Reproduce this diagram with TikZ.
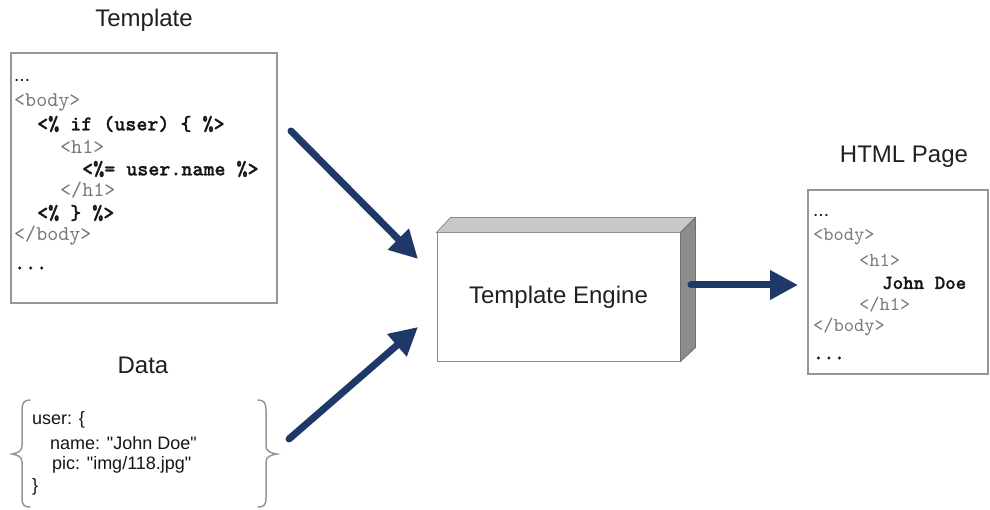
\documentclass[tikz,border=0pt]{standalone}
\usepackage{fontspec}
\setmainfont{Liberation Sans}
\newfontfamily\codefont{lmmono10-regular.otf}
\newfontfamily\codebf{lmmonolt10-bold.otf}[FakeBold=1]
\usetikzlibrary{arrows.meta}
\definecolor{navy}{RGB}{30,56,104}
\definecolor{codegray}{RGB}{120,120,120}
\definecolor{codeblack}{RGB}{22,22,22}
\definecolor{boxedge}{RGB}{150,150,150}
\definecolor{titlec}{RGB}{32,32,32}
\definecolor{topface}{RGB}{200,200,200}
\definecolor{sideface}{RGB}{140,140,140}
\tikzset{
  title/.style={font=\fontsize{24}{28}\selectfont, text=titlec, inner sep=0pt},
  codebox/.style={draw=boxedge, line width=1.6pt, fill=white, inner sep=0pt},
  codeg/.style={anchor=west, inner sep=0pt, text=codegray},
  codeb/.style={anchor=west, inner sep=0pt, text=codeblack},
  dots/.style={anchor=west, inner sep=0pt, text=codeblack, font=\fontsize{19}{22}\selectfont},
  datatext/.style={anchor=west, inner sep=0pt, text=codeblack, font=\fontsize{18}{21}\selectfont},
  bracepath/.style={draw=boxedge, line width=1.5pt, line cap=round},
  enginebox/.style={draw=sideface, line width=1pt, fill=white, inner sep=0pt,
    minimum width=243pt, minimum height=128pt, text=titlec, font=\fontsize{24}{28}\selectfont},
  flow/.style={draw=navy, line width=7pt, line cap=round, -{Triangle[length=28pt,width=28pt]}}
}
\begin{document}
\begin{tikzpicture}[x=1pt,y=-1pt]
\useasboundingbox (0,0) rectangle (990,510);
\fill[white] (0,0) rectangle (990,510);

% titles
\node[title] (ttpl) at (144,20) {Template};
\node[title] (tdata) at (143,365) {Data};
\node[title] (thtml) at (904,157) {HTML Page};

% template box
\node[codebox, minimum width=266pt, minimum height=250pt] (tplbox) at (144,178) {};
\node[dots] (t1) at (14,80) {...};
\node[codeg, font=\codefont\fontsize{21}{22}\selectfont] (t2) at (14,102) {<body>};
\node[codeb, font=\codebf\fontsize{21}{22}\selectfont] (t3) at (37,124) {<\% if (user) \{ \%>};
\node[codeg, font=\codefont\fontsize{21}{22}\selectfont] (t4) at (60,147) {<h1>};
\node[codeb, font=\codebf\fontsize{21}{22}\selectfont] (t5) at (82,169) {<\%= user.name \%>};
\node[codeg, font=\codefont\fontsize{21}{22}\selectfont] (t6) at (60,190) {</h1>};
\node[codeb, font=\codebf\fontsize{21}{22}\selectfont] (t7) at (37,213) {<\% \} \%>};
\node[codeg, font=\codefont\fontsize{21}{22}\selectfont] (t8) at (14,236) {</body>};
\node[codeb, font=\codebf\fontsize{21}{22}\selectfont] (t9) at (14,268) {...};

% data braces
\draw[bracepath] (30,400) .. controls (24,400) and (22,403) .. (22,410)
  -- (22,446) .. controls (22,451) and (18,453) .. (12,454)
  .. controls (18,455) and (22,457) .. (22,462)
  -- (22,498) .. controls (22,505) and (24,507) .. (30,507);
\draw[bracepath] (258,400) .. controls (264,400) and (266,403) .. (266,410)
  -- (266,446) .. controls (266,451) and (270,453) .. (277,454)
  .. controls (270,455) and (266,457) .. (266,462)
  -- (266,498) .. controls (266,505) and (264,507) .. (258,507);
\node[datatext] (d1) at (32,420) {user: \{};
\node[datatext] (d2) at (50,443) {name: \textquotedbl John Doe\textquotedbl};
\node[datatext] (d3) at (52,465) {pic: \textquotedbl img/118.jpg\textquotedbl};
\node[datatext] (d4) at (32,487) {\}};

% template engine
\node[enginebox] (engine) at (558.5,297) {Template Engine};
\filldraw[fill=topface, draw=sideface, line width=0.8pt] (engine.north west) -- ++(14,-15)
  -- ([shift={(15,-15)}]engine.north east) -- (engine.north east) -- cycle;
\filldraw[fill=sideface, draw=sideface!80!black, line width=0.8pt] (engine.north east) -- ++(15,-15)
  -- ([shift={(15,-14)}]engine.south east) -- (engine.south east) -- cycle;

% html page
\node[codebox, minimum width=180pt, minimum height=184pt] (htmlbox) at (898,282) {};
\node[dots] (h1) at (813,215) {...};
\node[codeg, font=\codefont\fontsize{19.5}{22}\selectfont] (h2) at (813,237) {<body>};
\node[codeg, font=\codefont\fontsize{19.5}{22}\selectfont] (h3) at (859,260) {<h1>};
\node[codeb, font=\codebf\fontsize{20}{22}\selectfont] (h4) at (882,283) {John Doe};
\node[codeg, font=\codefont\fontsize{19.5}{22}\selectfont] (h5) at (859,305) {</h1>};
\node[codeg, font=\codefont\fontsize{19.5}{22}\selectfont] (h6) at (813,327) {</body>};
\node[codeb, font=\codebf\fontsize{20}{22}\selectfont] (h7) at (813,358) {...};

% arrows
\coordinate (a1s) at (291,131);
\coordinate (a1e) at (418,259);
\coordinate (a2s) at (289,439);
\coordinate (a2e) at (418,327);
\coordinate (a3s) at (691,285);
\coordinate (a3e) at (798,285);
\draw[flow] (a1s) -- (a1e);
\draw[flow] (a2s) -- (a2e);
\draw[flow] (a3s) -- (a3e);
\end{tikzpicture}
\end{document}
